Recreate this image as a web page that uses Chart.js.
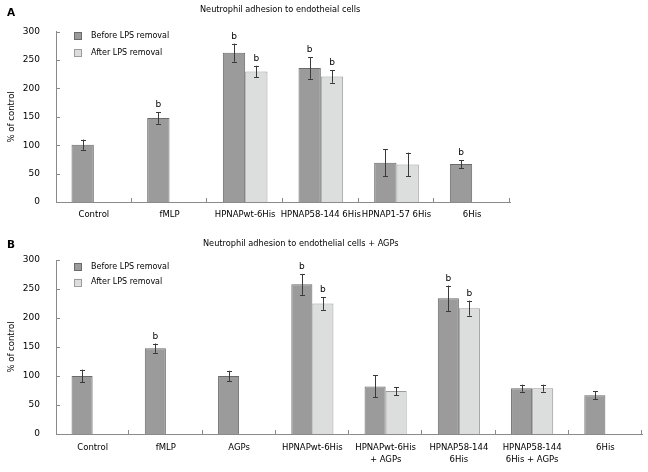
<!DOCTYPE html>
<html><head><meta charset="utf-8">
<script src="https://cdn.jsdelivr.net/npm/chart.js@4.4.1/dist/chart.umd.min.js"></script>
<style>
html,body{margin:0;padding:0;background:#fff;}
body{width:648px;height:472px;position:relative;overflow:hidden;}
canvas{position:absolute;left:0;}
</style></head><body>
<canvas id="chartA" width="648" height="225" style="top:0;width:648px;height:225px"></canvas>
<canvas id="chartB" width="648" height="247" style="top:225px;width:648px;height:247px"></canvas>
<script>
// ---------- Data ----------
const seriesNames = ['Before LPS removal', 'After LPS removal'];

const categoriesA = ['Control', 'fMLP', 'HPNAPwt-6His', 'HPNAP58-144 6His', 'HPNAP1-57 6His', '6His'];
const beforeA    = [101, 148, 263, 236, 69, 67];
const beforeErrA = [9, 10, 16, 19, 24, 7];
const afterA     = [null, null, 230, 221, 66, null];
const afterErrA  = [null, null, 10, 11, 21, null];
const sigBeforeA = [false, true, true, true, false, true];
const sigAfterA  = [false, false, true, true, false, false];

const categoriesB = ['Control', 'fMLP', 'AGPs', 'HPNAPwt-6His', ['HPNAPwt-6His', '+ AGPs'], ['HPNAP58-144', '6His'], ['HPNAP58-144', '6His + AGPs'], '6His'];
const beforeB    = [100, 148, 100, 258, 82, 234, 79, 67];
const beforeErrB = [11, 8, 9, 18, 19, 22, 6, 7];
const afterB     = [null, null, null, 225, 74, 217, 79, null];
const afterErrB  = [null, null, null, 11, 7, 13, 6, null];
const sigBeforeB = [false, true, false, true, false, true, false, false];
const sigAfterB  = [false, false, false, true, false, true, false, false];

const yTicks = { min: 0, max: 300, step: 50 };
const titleA = 'Neutrophil adhesion to endotheial cells';
const titleB = 'Neutrophil adhesion to endothelial cells + AGPs';
const yTitle = '% of control';

// ---------- Style ----------
const FONT = '"DejaVu Sans", Verdana, sans-serif';
const AXIS = '#8a8a8a';

const decor = {
  id: 'decor',
  afterDatasetsDraw(chart, args, o) {
    const ctx = chart.ctx, ca = chart.chartArea, ys = chart.scales.y;
    ctx.save();
    // inward ticks
    ctx.strokeStyle = AXIS; ctx.lineWidth = 1;
    ctx.beginPath();
    ys.ticks.forEach(t => {
      const y = Math.round(ys.getPixelForValue(t.value)) + 0.5;
      ctx.moveTo(ca.left, y); ctx.lineTo(ca.left + 4, y);
    });
    const n = chart.data.labels.length;
    for (let i = 1; i <= n; i++) {
      const x = Math.round(ca.left + i * (ca.right - ca.left) / n) - 0.5;
      ctx.moveTo(x, ca.bottom); ctx.lineTo(x, ca.bottom - 4);
    }
    ctx.stroke();
    // error bars + significance
    chart.data.datasets.forEach((ds, di) => {
      const meta = chart.getDatasetMeta(di);
      meta.data.forEach((el, j) => {
        const v = ds.data[j];
        if (v == null) return;
        const e = ds.errors[j];
        const yt = ys.getPixelForValue(v + e), yb = ys.getPixelForValue(v - e);
        const x = Math.round(el.x) + 0.5;
        ctx.strokeStyle = '#3a3a3a'; ctx.lineWidth = 1;
        ctx.beginPath();
        ctx.moveTo(x, yt); ctx.lineTo(x, yb);
        ctx.moveTo(x - 2.5, Math.round(yt) + 0.5); ctx.lineTo(x + 2.5, Math.round(yt) + 0.5);
        ctx.moveTo(x - 2.5, Math.round(yb) + 0.5); ctx.lineTo(x + 2.5, Math.round(yb) + 0.5);
        ctx.stroke();
        if (ds.sig[j]) {
          ctx.fillStyle = '#000'; ctx.font = '9px ' + FONT;
          ctx.textAlign = 'center'; ctx.textBaseline = 'alphabetic';
          ctx.fillText('b', el.x, yt - 5);
        }
      });
    });
    // legend
    ctx.font = '8px ' + FONT;
    ctx.textAlign = 'left'; ctx.textBaseline = 'middle';
    chart.data.datasets.forEach((ds, di) => {
      const cy = o.legendY[di];
      ctx.fillStyle = ds.backgroundColor;
      ctx.fillRect(o.legendX + 0.5, cy - 3.5, 7, 7);
      ctx.strokeStyle = ds.borderColor;
      ctx.strokeRect(o.legendX + 0.5, Math.round(cy - 3.5) + 0.5, 7, 7);
      ctx.fillStyle = '#000';
      ctx.fillText(ds.label, o.legendX + 17, cy);
    });
    // title and panel letter
    ctx.font = '8.2px ' + FONT;
    ctx.fillText(o.title, o.titleX, o.titleY);
    ctx.font = 'bold 10.5px ' + FONT;
    ctx.fillText(o.letter, 7, o.letterY);
    ctx.restore();
  }
};

function makeChart(id, labels, before, beforeErr, sigB, after, afterErr, sigA, cfg) {
  return new Chart(document.getElementById(id), {
    type: 'bar',
    data: {
      labels: labels,
      datasets: [
        { label: seriesNames[0], data: before, errors: beforeErr, sig: sigB,
          backgroundColor: '#9b9b9b', borderColor: '#6a6a6a', borderWidth: 1 },
        { label: seriesNames[1], data: after, errors: afterErr, sig: sigA,
          backgroundColor: '#dcdedd', borderColor: '#9c9c9c', borderWidth: 1 }
      ]
    },
    options: {
      responsive: false, animation: false, events: [],
      devicePixelRatio: 1,
      layout: { padding: { left: 0, right: cfg.right, top: cfg.top, bottom: 0 } },
      datasets: { bar: { categoryPercentage: cfg.catPct, barPercentage: 1 } },
      plugins: {
        legend: { display: false }, tooltip: { enabled: false },
        decor: cfg.decor
      },
      scales: {
        x: {
          grid: { display: false, drawTicks: false, tickLength: 0 },
          border: { color: AXIS, width: 1 },
          ticks: { color: '#000', font: { family: FONT, size: 8.5, lineHeight: cfg.lineH }, padding: cfg.xPad, maxRotation: 0, autoSkip: false },
          afterFit(s) { s.height = cfg.xh; }
        },
        y: {
          min: yTicks.min, max: yTicks.max,
          grid: { display: false, drawTicks: false, tickLength: 0 },
          border: { color: AXIS, width: 1 },
          ticks: { stepSize: yTicks.step, color: '#000', font: { family: FONT, size: 9 }, padding: 16 },
          title: { display: true, text: yTitle, color: '#000', font: { family: FONT, size: 8.5 }, padding: { top: 7, bottom: 0 } },
          afterFit(s) { s.width = 56; }
        }
      }
    },
    plugins: [decor]
  });
}

makeChart('chartA', categoriesA, beforeA, beforeErrA, sigBeforeA, afterA, afterErrA, sigAfterA, {
  right: 138, top: 31.7, xh: 23, xPad: 7.5, lineH: 1.2, catPct: 0.59,
  decor: { legendX: 74, legendY: [35.5, 52.5], title: titleA, titleX: 200, titleY: 10, letter: 'A', letterY: 13.5 }
});
makeChart('chartB', categoriesB, beforeB, beforeErrB, sigBeforeB, afterB, afterErrB, sigAfterB, {
  right: 6, top: 35, xh: 38, xPad: 7, lineH: 1.5, catPct: 0.575,
  decor: { legendX: 74, legendY: [41.7, 57.3], title: titleB, titleX: 203, titleY: 19, letter: 'B', letterY: 20.5 }
});
</script>
</body></html>
